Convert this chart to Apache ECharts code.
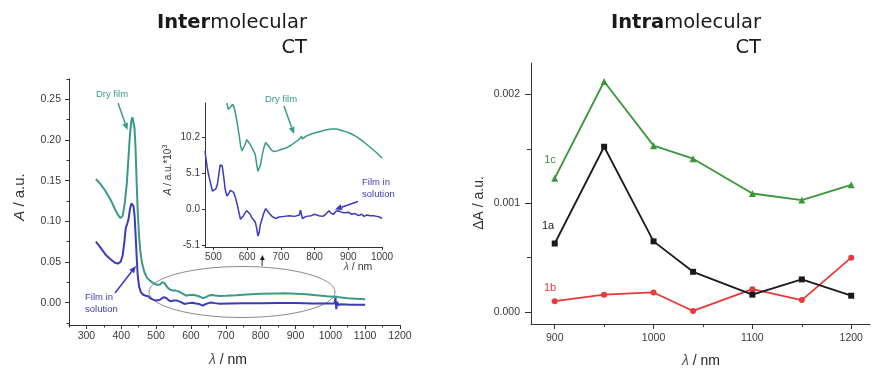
<!DOCTYPE html>
<html><head><meta charset="utf-8">
<script src="https://cdn.jsdelivr.net/npm/echarts@6/dist/echarts.min.js"></script>
<style>html,body{margin:0;padding:0;background:#fff}#c{width:876px;height:368px}</style>
</head><body><div id="c"></div>
<script>
// ---------- DATA ----------
// Left main panel: absorbance spectra [wavelength nm, A a.u.]
const dryFilm = [[327,0.152],[340,0.146],[355,0.137],[370,0.126],[383,0.114],[392,0.107],[398,0.104],[404,0.107],[410,0.122],[416,0.147],[421,0.180],[425,0.207],[429,0.224],[432,0.228],[435,0.226],[438,0.215],[441,0.190],[444,0.150],[447,0.115],[451,0.082],[455,0.062],[460,0.048],[466,0.038],[473,0.031],[482,0.027],[492,0.024],[502,0.022],[510,0.022],[518,0.025],[524,0.024],[532,0.019],[540,0.016],[548,0.015],[556,0.0148],[566,0.0135],[576,0.011],[586,0.0085],[596,0.0095],[605,0.0098],[615,0.0088],[625,0.0075],[634,0.0055],[642,0.0066],[651,0.0087],[660,0.0095],[670,0.0088],[682,0.0082],[700,0.0084],[730,0.009],[760,0.0101],[800,0.0108],[850,0.0113],[870,0.0114],[900,0.011],[930,0.0102],[960,0.009],[990,0.0078],[1010,0.0072],[1016,0.0076],[1019,0.0066],[1025,0.0065],[1050,0.0055],[1075,0.0048],[1100,0.0042]];
const filmSolution = [[327,0.075],[340,0.068],[355,0.059],[370,0.053],[382,0.049],[390,0.048],[398,0.050],[404,0.058],[409,0.075],[413,0.092],[417,0.097],[421,0.103],[425,0.115],[429,0.122],[432,0.123],[435,0.119],[438,0.108],[441,0.085],[444,0.058],[447,0.035],[451,0.020],[456,0.013],[462,0.010],[470,0.0085],[476,0.0082],[485,0.0049],[498,0.0025],[510,0.0032],[521,0.0065],[528,0.006],[540,0.0018],[550,0.0027],[560,0.0025],[570,0.001],[581,-0.0016],[594,-0.0006],[604,-0.0001],[614,-0.0011],[624,-0.0018],[634,-0.0037],[641,-0.002],[650,-0.0006],[658,0.0001],[668,-0.0006],[683,-0.0013],[710,-0.001],[750,-0.0009],[800,-0.0008],[850,-0.0005],[900,-0.0006],[950,-0.001],[1000,-0.0012],[1012,-0.0012],[1015,0.006],[1017,-0.008],[1020,0.001],[1023,-0.003],[1030,-0.002],[1060,-0.0025],[1100,-0.0026]];
// Inset: A * 10^3
const insetDry = [[540,15.1],[544,14.2],[548,14.0],[552,14.6],[557,14.9],[562,14.4],[567,13.2],[572,11.8],[577,10.3],[581,8.9],[585,8.3],[589,8.5],[594,9.2],[599,9.9],[604,9.8],[609,9.2],[614,8.8],[619,8.6],[624,7.8],[628,6.5],[632,5.4],[636,5.6],[640,6.4],[645,7.8],[650,8.8],[655,9.5],[660,9.4],[665,8.9],[672,8.4],[680,8.2],[690,8.3],[700,8.5],[715,8.7],[730,9.1],[745,9.6],[758,10.1],[761,10.4],[764,10.0],[775,10.4],[790,10.7],[805,10.9],[820,11.1],[835,11.3],[850,11.4],[865,11.4],[880,11.2],[895,11.0],[910,10.7],[925,10.3],[940,9.8],[955,9.2],[970,8.6],[985,8.0],[1000,7.3]];
const insetSolution = [[475,8.3],[478,7.2],[482,5.8],[487,4.6],[492,3.6],[497,2.6],[502,2.5],[507,2.9],[512,3.6],[516,5.0],[520,6.3],[523,6.5],[526,6.2],[530,4.8],[535,2.8],[540,1.9],[545,2.2],[550,2.7],[555,2.7],[560,2.4],[565,1.7],[570,0.8],[575,-0.3],[580,-1.4],[584,-1.5],[589,-0.9],[594,-0.5],[599,-0.2],[604,-0.2],[609,-0.7],[614,-1.2],[619,-1.4],[624,-1.8],[628,-2.6],[632,-3.8],[635,-3.4],[639,-2.2],[644,-1.4],[649,-0.6],[655,0.1],[660,0.0],[666,-0.6],[674,-1.0],[684,-1.3],[695,-1.1],[710,-1.0],[725,-0.9],[740,-1.0],[755,-0.8],[758,-0.1],[761,-0.3],[764,-1.3],[775,-1.0],[790,-0.9],[800,-0.7],[812,-0.9],[825,-1.0],[835,-0.6],[843,-0.2],[848,-0.5],[856,-0.7],[863,-0.3],[870,-0.2],[880,-0.4],[890,-0.5],[900,-0.4],[910,-0.7],[920,-0.6],[930,-0.9],[940,-0.7],[947,-1.0],[955,-0.8],[965,-0.9],[975,-0.9],[985,-1.0],[993,-1.1],[1000,-1.3]];
// Right panel
const rightX = [900,950,1000,1040,1100,1150,1200];
const s1a = [0.00063,0.00152,0.00065,0.00037,0.00016,0.00030,0.00015];
const s1b = [0.00010,0.00016,0.00018,0.00001,0.00021,0.00011,0.00050];
const s1c = [0.00123,0.00212,0.00153,0.00141,0.00109,0.00103,0.00117];
// Tick labels
const mainXTicks = [300,400,500,600,700,800,900,1000,1100,1200];
const mainXMinor = [250,350,450,550,650,750,850,950,1050,1150];
const mainYTicks = [0,0.05,0.10,0.15,0.20,0.25];
const mainYMinor = [-0.025,0.025,0.075,0.125,0.175,0.225,0.275];
const insetXTicks = [500,600,700,800,900,1000];
const insetYTicks = [-5.1,0,5.1,10.2];
const rightXTicks = [900,1000,1100,1200];
const rightXMinor = [950,1050,1150];
const rightYTicks = [0,0.001,0.002];
const rightYMinor = [0.0005,0.0015];

// ---------- STYLE ----------
const TEAL='#3a9a8a', BLUE='#3b3bbb', GREEN='#3a983a', RED='#e8383a', BLACK='#1a1a1a';
const AX='#333';
const LF='Liberation Sans';

function zip(xs,ys){return xs.map((x,i)=>[x,ys[i]]);}

function axis(kind, gi, min, max, ticks, fmt, opt){
  opt=opt||{};
  return {type:'value', gridIndex:gi, min:min, max:max, position: kind==='x'?'bottom':'left',
    axisLine:{show:true,onZero:false,lineStyle:{color:AX,width:1}},
    axisTick:{show:true,customValues:ticks,length:opt.tl||5,inside:false,lineStyle:{color:AX}},
    axisLabel:{show:true,customValues:ticks,formatter:fmt,color:'#3a3a3a',fontFamily:LF,fontSize:opt.fs||10.5,margin:opt.m||6},
    splitLine:{show:false}};
}
function minorAxis(kind, gi, min, max, ticks, len){
  return {type:'value', gridIndex:gi, min:min, max:max, position: kind==='x'?'bottom':'left',
    axisLine:{show:false,onZero:false},
    axisTick:{show:true,customValues:ticks,length:len||3,lineStyle:{color:AX}},
    axisLabel:{show:false}, splitLine:{show:false}};
}

function arrow(x1,y1,x2,y2,color,w,hl,hw){
  const dx=x2-x1, dy=y2-y1, L=Math.hypot(dx,dy), ux=dx/L, uy=dy/L;
  const bx=x2-ux*hl, by=y2-uy*hl;
  return [
    {type:'line',shape:{x1:x1,y1:y1,x2:bx,y2:by},style:{stroke:color,lineWidth:w}},
    {type:'polygon',shape:{points:[[x2,y2],[bx-uy*hw,by+ux*hw],[bx+uy*hw,by-ux*hw]]},style:{fill:color}}
  ];
}
function txt(x,y,text,color,size,align,extra){
  return Object.assign({type:'text',style:{x:x,y:y,text:text,fill:color,font:size+'px "'+LF+'"',align:align||'left',verticalAlign:'middle'}},extra||{});
}

const chart = echarts.init(document.getElementById('c'),null,{renderer:'canvas'});

const graphics = [
  // titles
  {type:'text',style:{x:307,y:23,text:'{b|Inter}{n|molecular}',align:'right',verticalAlign:'middle',fill:'#1a1a1a',
    rich:{b:{fontFamily:'DejaVu Sans',fontSize:19.5,fontWeight:'bold',fill:'#1a1a1a'},n:{fontFamily:'DejaVu Sans',fontSize:19.5,fill:'#1a1a1a'}}}},
  {type:'text',style:{x:307,y:48,text:'CT',align:'right',verticalAlign:'middle',fill:'#1a1a1a',font:'19.5px "DejaVu Sans"'}},
  {type:'text',style:{x:761,y:23,text:'{b|Intra}{n|molecular}',align:'right',verticalAlign:'middle',fill:'#1a1a1a',
    rich:{b:{fontFamily:'DejaVu Sans',fontSize:19.5,fontWeight:'bold',fill:'#1a1a1a'},n:{fontFamily:'DejaVu Sans',fontSize:19.5,fill:'#1a1a1a'}}}},
  {type:'text',style:{x:761,y:48,text:'CT',align:'right',verticalAlign:'middle',fill:'#1a1a1a',font:'19.5px "DejaVu Sans"'}},
  // axis names
  {type:'text',x:20,y:197,rotation:Math.PI/2,style:{x:0,y:0,text:'{i|A} / a.u.',align:'center',verticalAlign:'middle',fill:'#333',
    rich:{i:{fontFamily:LF,fontSize:15,fontStyle:'italic',fill:'#333'}},font:'15px "'+LF+'"'}},
  {type:'text',style:{x:228,y:360,text:'{i|λ} / nm',align:'center',verticalAlign:'middle',fill:'#222',
    rich:{i:{fontFamily:LF,fontSize:14,fontStyle:'italic',fill:'#555'}},font:'14px "'+LF+'"'}},
  {type:'text',x:168,y:170,rotation:Math.PI/2,style:{x:0,y:0,text:'{i|A} / a.u.*10{s|3}',align:'center',verticalAlign:'middle',fill:'#333',
    rich:{i:{fontFamily:LF,fontSize:10,fontStyle:'italic',fill:'#333'},s:{fontFamily:LF,fontSize:7,fill:'#333',verticalAlign:'top',padding:[0,0,6,0]}},font:'10px "'+LF+'"'}},
  {type:'text',style:{x:358,y:267,text:'{i|λ} / nm',align:'center',verticalAlign:'middle',fill:'#333',
    rich:{i:{fontFamily:LF,fontSize:10.5,fontStyle:'italic',fill:'#555'}},font:'10.5px "'+LF+'"'}},
  {type:'text',x:479,y:203,rotation:Math.PI/2,style:{x:0,y:0,text:'ΔA / a.u.',align:'center',verticalAlign:'middle',fill:'#333',font:'14px "'+LF+'"'}},
  {type:'text',style:{x:701,y:361,text:'{i|λ} / nm',align:'center',verticalAlign:'middle',fill:'#222',
    rich:{i:{fontFamily:LF,fontSize:14,fontStyle:'italic',fill:'#555'}},font:'14px "'+LF+'"'}},
  // annotations left
  txt(112,94,'Dry film',TEAL,9.5,'center'),
  txt(85,297,'Film in',BLUE,9.5,'left'),
  txt(85,309,'solution',BLUE,9.5,'left'),
  txt(281,99,'Dry film',TEAL,9.5,'center'),
  txt(362,182,'Film in',BLUE,9.5,'left'),
  txt(362,194,'solution',BLUE,9.5,'left'),
  {type:'ellipse',shape:{cx:242,cy:292,rx:93,ry:25.5},style:{fill:'none',stroke:'#8a8a8a',lineWidth:1}},
  // right labels
  txt(550,160,'1c',GREEN,11,'center'),
  txt(548,226,'1a',BLACK,11,'center'),
  txt(550,288,'1b',RED,11,'center')
].concat(
  arrow(118,103,127.5,130,TEAL,1.5,7,3),
  arrow(115,293,136,266,BLUE,1.5,7,3),
  arrow(284,106,294,134,TEAL,1.5,7,3),
  arrow(358,201.5,335,209.5,BLUE,1.5,7,3),
  arrow(262,266,262.5,255,'#222',1,5,2.5)
);

const option = {
  animation:false,
  backgroundColor:'#fff',
  grid:[
    {left:69,top:79,width:331,height:246,outerBoundsMode:'none',containLabel:false},
    {left:205,top:103,width:177,height:144,outerBoundsMode:'none',containLabel:false},
    {left:531,top:63,width:339,height:261,outerBoundsMode:'none',containLabel:false}
  ],
  xAxis:[
    axis('x',0,250,1200,mainXTicks,v=>String(v),{m:6,tl:4}),
    minorAxis('x',0,250,1200,mainXMinor,2.5),
    axis('x',1,475,1000,insetXTicks,v=>String(v),{fs:10,m:5,tl:3}),
    axis('x',2,876,1219,rightXTicks,v=>String(v),{m:9,tl:5}),
    minorAxis('x',2,876,1219,rightXMinor,3)
  ],
  yAxis:[
    axis('y',0,-0.0275,0.275,mainYTicks,v=>v.toFixed(2),{m:8,tl:4}),
    minorAxis('y',0,-0.0275,0.275,mainYMinor,2.5),
    axis('y',1,-5.35,15.1,insetYTicks,v=>v.toFixed(1),{fs:10,m:5,tl:3}),
    axis('y',2,-0.00011,0.00229,rightYTicks,v=>v.toFixed(3),{m:11,tl:6}),
    minorAxis('y',2,-0.00011,0.00229,rightYMinor,4)
  ],
  series:[
    {type:'line',name:'Dry film',xAxisIndex:0,yAxisIndex:0,data:dryFilm,showSymbol:false,symbol:'none',lineStyle:{color:TEAL,width:2},z:3},
    {type:'line',name:'Film in solution',xAxisIndex:0,yAxisIndex:0,data:filmSolution,showSymbol:false,symbol:'none',lineStyle:{color:BLUE,width:2},z:3},
    {type:'line',name:'Dry film inset',xAxisIndex:2,yAxisIndex:2,data:insetDry,showSymbol:false,symbol:'none',lineStyle:{color:TEAL,width:1.5},z:3},
    {type:'line',name:'Film in solution inset',xAxisIndex:2,yAxisIndex:2,data:insetSolution,showSymbol:false,symbol:'none',lineStyle:{color:BLUE,width:1.5},z:3},
    {type:'line',name:'1c',xAxisIndex:3,yAxisIndex:3,data:zip(rightX,s1c),symbol:'triangle',symbolSize:7,showSymbol:true,itemStyle:{color:GREEN},lineStyle:{color:GREEN,width:1.8},z:3},
    {type:'line',name:'1a',xAxisIndex:3,yAxisIndex:3,data:zip(rightX,s1a),symbol:'rect',symbolSize:6,showSymbol:true,itemStyle:{color:BLACK},lineStyle:{color:BLACK,width:1.8},z:4},
    {type:'line',name:'1b',xAxisIndex:3,yAxisIndex:3,data:zip(rightX,s1b),symbol:'circle',symbolSize:6,showSymbol:true,itemStyle:{color:RED},lineStyle:{color:RED,width:1.8},z:3}
  ],
  graphic:graphics
};
chart.setOption(option);
</script></body></html>
